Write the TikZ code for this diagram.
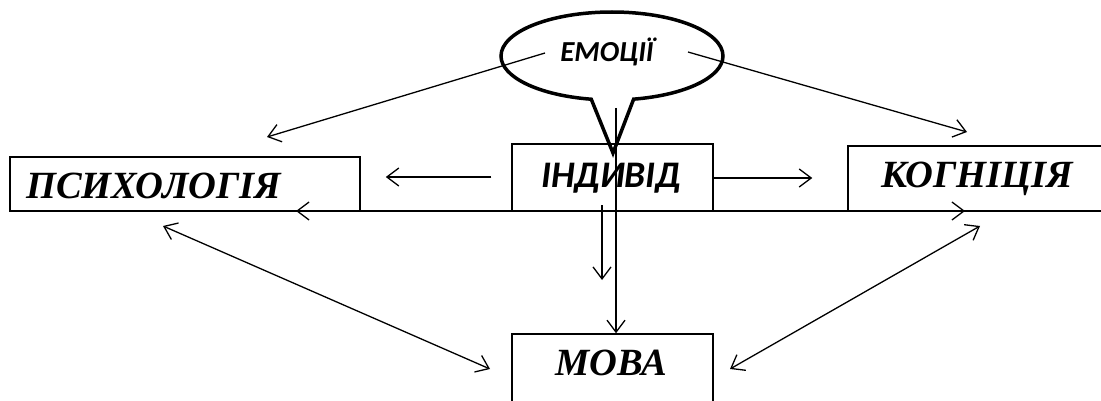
\documentclass[tikz,border=0pt]{standalone}
\usepackage{fontspec}
\newfontfamily\serifbi{Liberation Serif Bold Italic}
\newfontfamily\sansbi{Carlito Bold Italic}
\usetikzlibrary{arrows.meta,shapes.callouts}

\begin{document}
\begin{tikzpicture}[x=1pt,y=-1pt,
  box/.style={draw, line width=1.5pt, inner sep=0pt},
  arr/.style={-{Straight Barb[length=12pt,width=18pt]}, line width=1.3pt},
  darr/.style={{Straight Barb[length=12pt,width=18pt]}-{Straight Barb[length=12pt,width=18pt]}, line width=1.3pt},
  serifword/.style={font=\serifbi\fontsize{38.5}{38.5}\selectfont, inner sep=0pt},
  sansword/.style={font=\sansbi\fontsize{37.5}{37.5}\selectfont, inner sep=0pt}]
\useasboundingbox (0,0) rectangle (1101,401);
\clip (0,0) rectangle (1101,401);

% boxes
\node[box, minimum width=350pt, minimum height=54pt] (psy) at (185,184) {};
\node[box, minimum width=201pt, minimum height=67pt] (ind) at (612.5,177.5) {};
\node[box, minimum width=262pt, minimum height=65pt] (kog) at (979,178.5) {};
\node[box, minimum width=201pt, minimum height=86pt] (mova) at (612.5,377) {};

% labels
\node[serifword, anchor=base west] (psyt) at (26,198) {ПСИХОЛОГІЯ};
\node[sansword, anchor=base] (indt) at (611,188) {ІНДИВІД};
\node[serifword, anchor=base west] (kogt) at (881,188) {КОГНІЦІЯ};
\node[serifword, anchor=base] (movat) at (611,375) {МОВА};

% speech balloon
\node[ellipse callout, draw, line width=3.5pt, minimum width=222pt, minimum height=88pt,
      inner sep=0pt, callout absolute pointer={(613,153)}, callout pointer arc=22] (emo) at (612,56) {};
\node[font=\sansbi\fontsize{29}{29}\selectfont, inner sep=0pt, anchor=base] (emot) at (607,62) {ЕМОЦІЇ};

% connector ends
\coordinate (eL) at (545,53);
\coordinate (eR) at (688,52);
\coordinate (pL) at (267,137);
\coordinate (kR) at (967,132);
\coordinate (hL) at (296,211);
\coordinate (hR) at (965,211);
\coordinate (vS) at (602,205);
\coordinate (vE) at (602,280);
\coordinate (lS) at (616,108);
\coordinate (dL1) at (163,226);
\coordinate (dL2) at (490,369);
\coordinate (dR1) at (730,369);
\coordinate (dR2) at (980,226);

% connectors
\draw[arr] (eL) -- (pL);
\draw[arr] (eR) -- (kR);
\draw[arr, shorten <=20pt, shorten >=25pt] (ind.west |- 0,177) -- (psy.east |- 0,177);
\draw[arr, shorten >=35pt] (ind.east |- 0,178) -- (kog.west |- 0,178);
\draw[darr] (hL) -- (hR);
\draw[arr] (vS) -- (vE);
\draw[arr] (lS) -- (lS |- mova.north);
\draw[darr] (dL1) -- (dL2);
\draw[darr] (dR1) -- (dR2);
\end{tikzpicture}
\end{document}
